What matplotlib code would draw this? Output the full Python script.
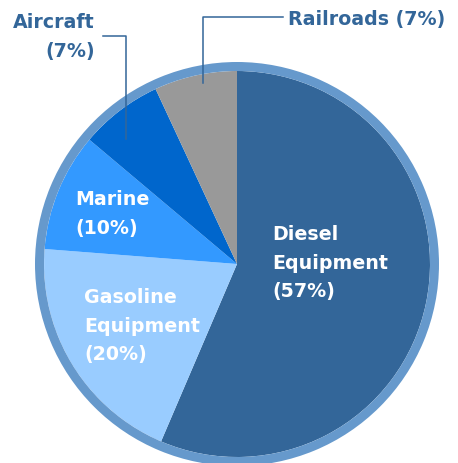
import matplotlib.pyplot as plt
from matplotlib.patches import Wedge

labels = ["Diesel\nEquipment\n(57%)", "Gasoline\nEquipment\n(20%)", "Marine\n(10%)", "Aircraft\n(7%)", "Railroads (7%)"]
shares = [57, 20, 10, 7, 7]
colors = ["#336699", "#99CCFF", "#3399FF", "#0066CC", "#999999"]

W, H = 458, 464


def py(y):
    # pixel row -> data y
    return H - y


fig = plt.figure(figsize=(W / 100, H / 100), dpi=100)
ax = fig.add_axes([0, 0, 1, 1])

cx, cy, r = 237, py(265), 193
ax.pie(shares, colors=colors, startangle=90, counterclock=False,
       center=(cx, cy), radius=r, frame=True,
       wedgeprops=dict(linewidth=0))
ax.add_patch(Wedge((cx, cy), r + 9, 0, 360, width=9, color="#6699CC", lw=0))
ax.set_xlim(0, W)
ax.set_ylim(0, H)
ax.set_aspect("equal")
ax.axis("off")

font = dict(fontsize=13.7, fontweight="bold", family="DejaVu Sans", va="top", linespacing=1.64)
off = 2  # bbox top sits above the cap line
ax.text(272, py(227 - off), labels[0], color="white", ha="left", **font)
ax.text(84, py(290 - off), labels[1], color="white", ha="left", **font)
ax.text(75, py(192 - off), labels[2], color="white", ha="left", **font)
ax.text(95, py(15 - off), labels[3], color="#336699", ha="right", multialignment="right", **font)
ax.text(288, py(12 - off), labels[4], color="#336699", ha="left", **font)

line = dict(color="#336699", lw=1.1)
ax.plot([103, 126, 126], [py(37), py(37), py(140)], **line)
ax.plot([283, 203, 203], [py(18), py(18), py(84)], **line)

fig.savefig("out.png", dpi=100)
